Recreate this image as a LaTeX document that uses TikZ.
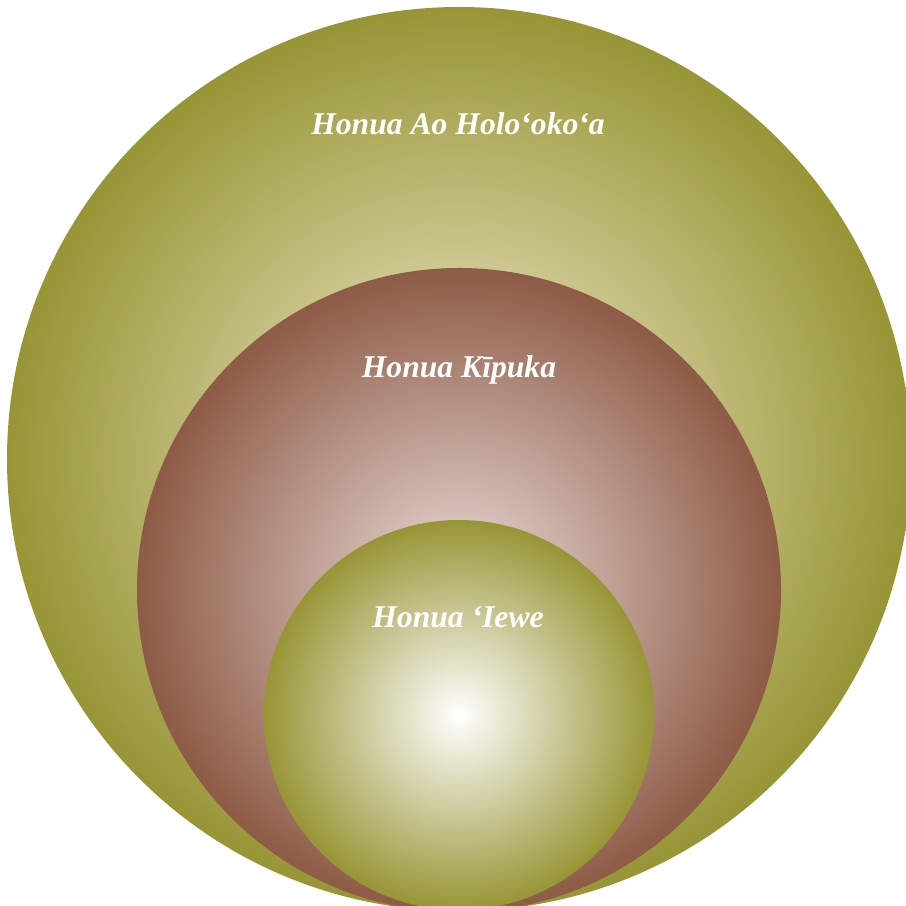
\documentclass[tikz,border=0pt]{standalone}
\usepackage{fontspec}
\setmainfont{Liberation Serif}
\definecolor{olivedark}{RGB}{152,149,54}
\definecolor{olivepale}{RGB}{242,237,210}
\definecolor{claybrown}{RGB}{141,91,70}
\definecolor{claypale}{RGB}{236,222,218}
\pgfdeclareradialshading{worldglow}{\pgfpoint{0bp}{0bp}}{color(0bp)=(olivepale);color(25bp)=(olivedark);color(50bp)=(olivedark)}
\pgfdeclareradialshading{kipukaglow}{\pgfpoint{0bp}{0bp}}{color(0bp)=(claypale);color(25bp)=(claybrown);color(50bp)=(claybrown)}
\pgfdeclareradialshading{ieweglow}{\pgfpoint{0bp}{0bp}}{color(0bp)=(white);color(25bp)=(olivedark);color(50bp)=(olivedark)}

\begin{document}
\begin{tikzpicture}[x=0.3mm,y=0.3mm,realm/.style={circle,draw=none,inner sep=0pt},realmlabel/.style={text=white,anchor=base,font=\fontsize{27}{32}\selectfont\bfseries\itshape}]
\useasboundingbox (0,0) rectangle (906,905);
\clip (0,0) rectangle (906,905);
\coordinate (W) at (459,446);
\coordinate (K) at (459,315);
\coordinate (I) at (459,190);
\node[realm,minimum size=271.2mm,shading=worldglow] (world) at (W) {};
\node[realm,minimum size=193.2mm,shading=kipukaglow] (kipuka) at (K) {};
\node[realm,minimum size=117mm,shading=ieweglow] (iewe) at (I) {};
\node[realmlabel] (worldlabel) at (458,770) {Honua Ao Holoʻokoʻa};
\node[realmlabel] (kipukalabel) at (459,527) {Honua Kīpuka};
\node[realmlabel] (iewelabel) at (458,277) {Honua ʻIewe};
\end{tikzpicture}
\end{document}
